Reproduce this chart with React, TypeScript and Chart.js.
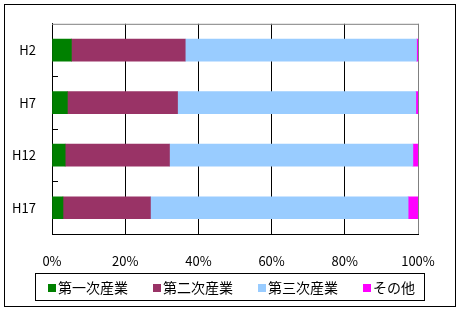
import React, { useEffect, useRef } from "react";
import { Chart, registerables } from "chart.js";

Chart.register(...registerables);

const categories = ["H2", "H7", "H12", "H17"];
const primary = [5.3, 4.2, 3.6, 3.0];
const secondary = [31.1, 30.1, 28.5, 23.9];
const tertiary = [63.2, 65.1, 66.5, 70.4];
const other = [0.4, 0.6, 1.4, 2.7];
const seriesLabels = ["第一次産業", "第二次産業", "第三次産業", "その他"];
const seriesColors = ["#008000", "#993366", "#99CCFF", "#FF00FF"];
const xTicks = [0, 20, 40, 60, 80, 100];

const FONT = '"Noto Sans CJK JP", "Noto Sans", sans-serif';

const framePlugin = {
  id: "frame",
  afterDraw(chart: any) {
    const ctx = chart.ctx;
    const area = chart.chartArea;
    const y = chart.scales.y;
    ctx.save();
    // outer border
    ctx.strokeStyle = "#000";
    ctx.lineWidth = 1;
    ctx.strokeRect(4.5, 4.5, 451, 302);
    // top gray border of plot
    ctx.strokeStyle = "#808080";
    ctx.beginPath();
    ctx.moveTo(area.left, area.top + 0.5);
    ctx.lineTo(area.right + 1, area.top + 0.5);
    ctx.stroke();
    // category boundary ticks
    ctx.strokeStyle = "#000";
    const n = chart.data.labels.length;
    for (let i = 1; i < n; i++) {
      const py = (y.getPixelForValue(i - 1) + y.getPixelForValue(i)) / 2;
      const ry = Math.round(py) + 0.5;
      ctx.beginPath();
      ctx.moveTo(area.left, ry);
      ctx.lineTo(area.left + 6, ry);
      ctx.stroke();
    }
    // legend
    ctx.strokeStyle = "#000";
    ctx.strokeRect(35.5, 273.5, 389, 27);
    ctx.font = `14px ${FONT}`;
    ctx.textBaseline = "middle";
    ctx.textAlign = "left";
    let x = 48;
    chart.data.datasets.forEach((ds: any) => {
      ctx.fillStyle = ds.backgroundColor;
      ctx.fillRect(x, 284, 8, 8);
      ctx.fillStyle = "#000";
      ctx.fillText(ds.label, x + 10, 288);
      const w = ctx.measureText(ds.label).width;
      x += 8 + 3 + w + 24;
    });
    ctx.restore();
  },
};

export default function App() {
  const ref = useRef<HTMLCanvasElement | null>(null);
  useEffect(() => {
    if (!ref.current) return;
    const values = [primary, secondary, tertiary, other];
    const chart = new Chart(ref.current, {
      type: "bar",
      data: {
        labels: categories,
        datasets: values.map((v, i) => ({
          label: seriesLabels[i],
          data: v,
          backgroundColor: seriesColors[i],
          borderWidth: 0,
          barThickness: 22,
        })),
      },
      options: {
        indexAxis: "y",
        animation: false,
        responsive: false,
        layout: { padding: { left: 0, top: 16, right: 43, bottom: 0 } },
        plugins: { legend: { display: false }, tooltip: { enabled: false } },
        scales: {
          x: {
            stacked: true,
            min: 0,
            max: 100,
            afterBuildTicks: (s: any) => {
              s.ticks = xTicks.map((v) => ({ value: v }));
            },
            afterFit: (s: any) => {
              s.height = 78;
            },
            ticks: {
              callback: (v: any) => v + "%",
              color: "#000",
              font: { size: 13, family: FONT },
              padding: 19,
              maxRotation: 0,
            },
            grid: {
              drawTicks: false,
              color: (c: any) => (c.tick && c.tick.value === 100 ? "#808080" : "#000"),
              lineWidth: 1,
            },
            border: { color: "#000" },
          },
          y: {
            stacked: true,
            afterFit: (s: any) => {
              s.width = 52;
            },
            ticks: {
              color: "#000",
              font: { size: 13, family: FONT },
              padding: 16,
            },
            grid: { display: false, drawTicks: false },
            border: { color: "#000" },
          },
        },
      },
      plugins: [framePlugin],
    } as any);
    return () => chart.destroy();
  }, []);
  return (
    <div style={{ position: "absolute", left: 0, top: 0, width: 461, height: 312, background: "#fff" }}>
      <canvas ref={ref} width={461} height={312} style={{ display: "block" }} />
    </div>
  );
}
